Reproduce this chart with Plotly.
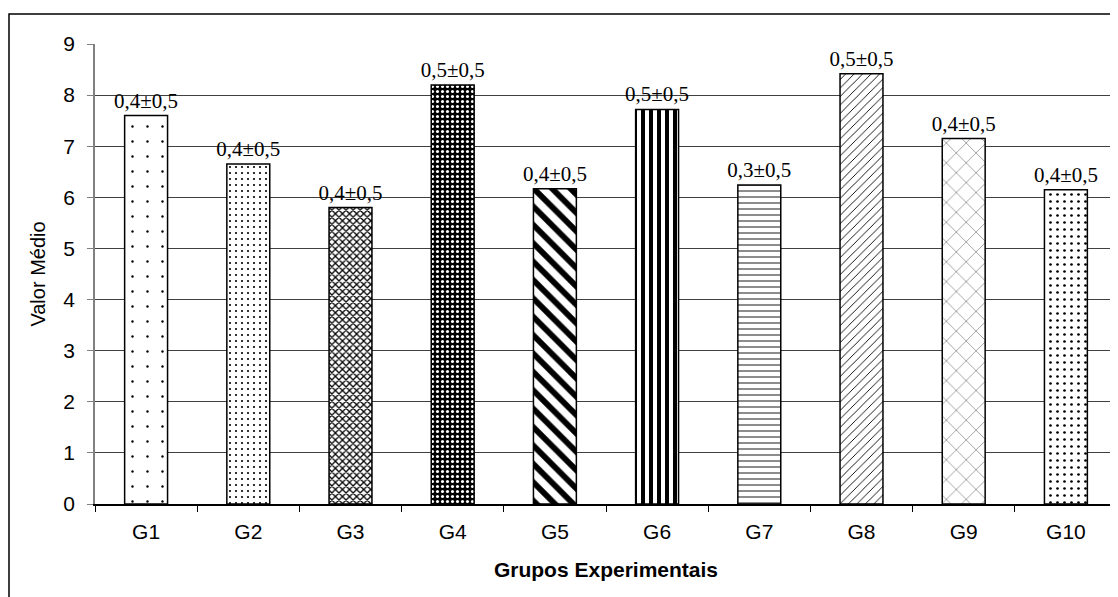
import plotly.graph_objects as go

categories = ["G1", "G2", "G3", "G4", "G5", "G6", "G7", "G8", "G9", "G10"]
values = [7.6, 6.65, 5.8, 8.2, 6.17, 7.72, 6.24, 8.42, 7.15, 6.15]
labels = ["0,4±0,5", "0,4±0,5", "0,4±0,5", "0,5±0,5", "0,4±0,5",
          "0,5±0,5", "0,3±0,5", "0,5±0,5", "0,4±0,5", "0,4±0,5"]
y_ticks = list(range(0, 10))

pat_shapes = [".", ".", "x", ".", "\\", "|", "-", "/", "x", "."]
pat_sizes = [15, 6, 5, 5, 13, 8, 6, 6, 14, 7]
pat_solid = [0.02, 0.1, 0.45, 0.3, 0.45, 0.5, 0.15, 0.15, 0.05, 0.12]
pat_fg = ["black", "black", "black", "white", "black", "black", "black", "black", "black", "black"]
pat_bg = ["white", "white", "white", "black", "white", "white", "white", "white", "white", "white"]

fig = go.Figure()
fig.add_trace(go.Bar(
    x=categories, y=values, text=labels, textposition="outside",
    textfont=dict(family="Liberation Serif", size=21, color="black"),
    constraintext="none",
    cliponaxis=False,
    marker=dict(color="white", line=dict(color="black", width=1.5),
                pattern=dict(shape=pat_shapes, size=pat_sizes, solidity=pat_solid,
                             fgcolor=pat_fg, bgcolor=pat_bg, fillmode="replace")),
    width=0.42,
))

# page body has an 8px margin, so the figure is 8px smaller
W, H = 1110, 589
L, R, T, B = 87, 1, 36, 93
pw, ph = W - L - R, H - T - B

fig.add_shape(type="rect", xref="paper", yref="paper",
              x0=(1 - L) / pw, x1=(W + 10 - L) / pw,
              y0=-(H + 10 - (T + ph)) / ph, y1=1 + (T - 6) / ph,
              line=dict(color="black", width=1.5), fillcolor="rgba(0,0,0,0)", layer="below")

fig.update_layout(
    width=W, height=H,
    margin=dict(l=L, r=R, t=T, b=B, autoexpand=False),
    paper_bgcolor="white", plot_bgcolor="white",
    showlegend=False,
    font=dict(family="Liberation Sans", color="black"),
    xaxis=dict(
        showline=True, linecolor="black", linewidth=1.5,
        ticks="outside", ticklen=6, tickcolor="black",
        tickson="boundaries",
        tickfont=dict(size=21), ticklabelstandoff=8,
        title=dict(text="<b>Grupos Experimentais</b>", font=dict(size=21), standoff=20),
    ),
    yaxis=dict(
        range=[0, 9], tickvals=y_ticks,
        showline=True, linecolor="#808080", linewidth=1.5,
        ticks="outside", ticklen=6, tickcolor="#808080",
        showgrid=True, gridcolor="#404040", gridwidth=1,
        tickfont=dict(size=21), ticklabelstandoff=8,
        zeroline=False,
        title=dict(text="Valor Médio", font=dict(size=20), standoff=12),
    ),
)

fig.write_html("out.html")
